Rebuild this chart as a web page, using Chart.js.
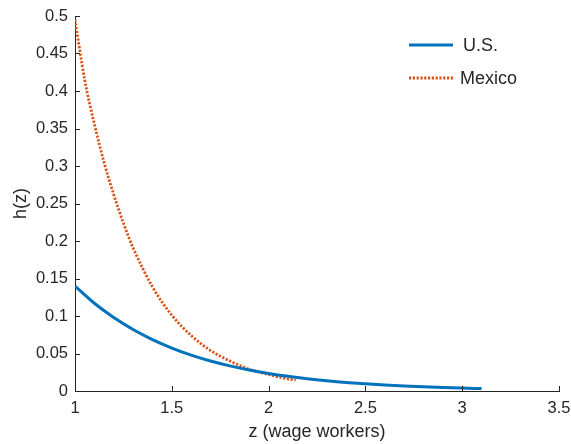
<!DOCTYPE html>
<html>
<head>
<meta charset="utf-8">
<script src="https://cdn.jsdelivr.net/npm/chart.js@4/dist/chart.umd.min.js"></script>
<style>
  html, body { margin: 0; padding: 0; background: #fff; }
  #wrap { width: 571px; height: 444px; }
</style>
</head>
<body>
<div id="wrap"><canvas id="c" width="571" height="444"></canvas></div>
<script>
// Density h(z) of wage workers by productivity z
const usZ = [1.0, 1.1, 1.2, 1.3, 1.4, 1.5, 1.6, 1.7, 1.8, 1.9, 2.0, 2.1, 2.2, 2.3, 2.4, 2.5, 2.6, 2.7, 2.8, 2.9, 3.0, 3.1];
const usH = [0.140, 0.117, 0.098, 0.082, 0.0685, 0.0573, 0.0479, 0.0400, 0.0335, 0.0280, 0.0234, 0.0196, 0.0164, 0.0137, 0.0114, 0.0096, 0.0080, 0.0067, 0.0056, 0.0047, 0.0039, 0.0033];

const mexZ = [1.0, 1.05, 1.1, 1.15, 1.2, 1.25, 1.3, 1.4, 1.5, 1.6, 1.7, 1.8, 1.9, 2.0, 2.1, 2.14];
const mexH = [0.495, 0.415, 0.356, 0.305, 0.262, 0.224, 0.191, 0.139, 0.101, 0.074, 0.054, 0.040, 0.029, 0.022, 0.016, 0.0145];

const xTicks = [1, 1.5, 2, 2.5, 3, 3.5];
const yTicks = [0, 0.05, 0.1, 0.15, 0.2, 0.25, 0.3, 0.35, 0.4, 0.45, 0.5];

const seriesNames = ['U.S.', 'Mexico'];

const INK = '#262626';
const FONT = '"Liberation Sans", Arial, Helvetica, sans-serif';

const pts = (xs, ys) => xs.map((x, i) => ({ x: x, y: ys[i] }));

// tick marks pointing into the plot area
const innerTicks = {
  id: 'innerTicks',
  afterDraw(chart) {
    const { ctx, chartArea: a, scales: { x, y } } = chart;
    ctx.save();
    ctx.strokeStyle = INK;
    ctx.lineWidth = 1;
    ctx.beginPath();
    xTicks.forEach(v => {
      const px = Math.round(x.getPixelForValue(v)) + 0.5;
      ctx.moveTo(px, a.bottom);
      ctx.lineTo(px, a.bottom - 5);
    });
    yTicks.forEach(v => {
      const py = Math.round(y.getPixelForValue(v)) + 0.5;
      ctx.moveTo(a.left, py);
      ctx.lineTo(a.left + 5, py);
    });
    ctx.stroke();
    ctx.restore();
  }
};

// legend in the upper right of the plot area
const insetLegend = {
  id: 'insetLegend',
  afterDraw(chart) {
    const { ctx } = chart;
    const rows = [{ y: 45, tx: 463 }, { y: 78, tx: 460 }];
    ctx.save();
    chart.data.datasets.forEach((ds, i) => {
      const r = rows[i];
      ctx.beginPath();
      ctx.strokeStyle = ds.borderColor;
      ctx.lineWidth = ds.borderWidth;
      ctx.lineCap = 'butt';
      ctx.setLineDash(ds.borderDash || []);
      ctx.moveTo(409, r.y);
      ctx.lineTo(453, r.y);
      ctx.stroke();
      ctx.setLineDash([]);
      ctx.fillStyle = INK;
      ctx.font = '18px ' + FONT;
      ctx.textBaseline = 'middle';
      ctx.textAlign = 'left';
      ctx.fillText(ds.label, r.tx, r.y + 1);
    });
    ctx.restore();
  }
};

new Chart(document.getElementById('c'), {
  type: 'line',
  data: {
    datasets: [
      {
        label: seriesNames[0],
        data: pts(usZ, usH),
        borderColor: '#0072BD',
        borderWidth: 3,
        pointRadius: 0,
        cubicInterpolationMode: 'monotone',
        fill: false
      },
      {
        label: seriesNames[1],
        data: pts(mexZ, mexH),
        borderColor: '#D95319',
        borderWidth: 2.8,
        borderDash: [2.2, 1.6],
        borderCapStyle: 'butt',
        pointRadius: 0,
        cubicInterpolationMode: 'monotone',
        fill: false
      }
    ]
  },
  options: {
    responsive: false,
    animation: false,
    devicePixelRatio: 1,
    layout: { padding: { left: 0, right: 12, top: 16, bottom: 0 } },
    plugins: {
      legend: { display: false },
      tooltip: { enabled: false }
    },
    scales: {
      x: {
        type: 'linear',
        min: 1,
        max: 3.5,
        afterBuildTicks: s => { s.ticks = xTicks.map(v => ({ value: v })); },
        afterFit: s => { s.height = 53; s.paddingLeft = 0; s.paddingRight = 0; },
        grid: { display: false, drawTicks: false },
        border: { display: true, color: INK, width: 1 },
        ticks: {
          padding: 8,
          color: INK,
          font: { family: FONT, size: 16.5 },
          maxRotation: 0,
          callback: v => String(+v.toFixed(2))
        },
        title: {
          display: true,
          text: 'z (wage workers)',
          color: INK,
          font: { family: FONT, size: 18 },
          padding: { top: 0, bottom: 1.5 }
        }
      },
      y: {
        type: 'linear',
        min: 0,
        max: 0.5,
        afterBuildTicks: s => { s.ticks = yTicks.map(v => ({ value: v })); },
        afterFit: s => { s.width = 75; s.paddingTop = 0; s.paddingBottom = 0; },
        grid: { display: false, drawTicks: false },
        border: { display: true, color: INK, width: 1 },
        ticks: {
          padding: 7,
          color: INK,
          font: { family: FONT, size: 16.5 },
          callback: v => String(+v.toFixed(2))
        },
        title: {
          display: true,
          text: 'h(z)',
          color: INK,
          font: { family: FONT, size: 18 },
          padding: { top: 10, bottom: 0 }
        }
      }
    }
  },
  plugins: [innerTicks, insetLegend]
});
</script>
</body>
</html>
